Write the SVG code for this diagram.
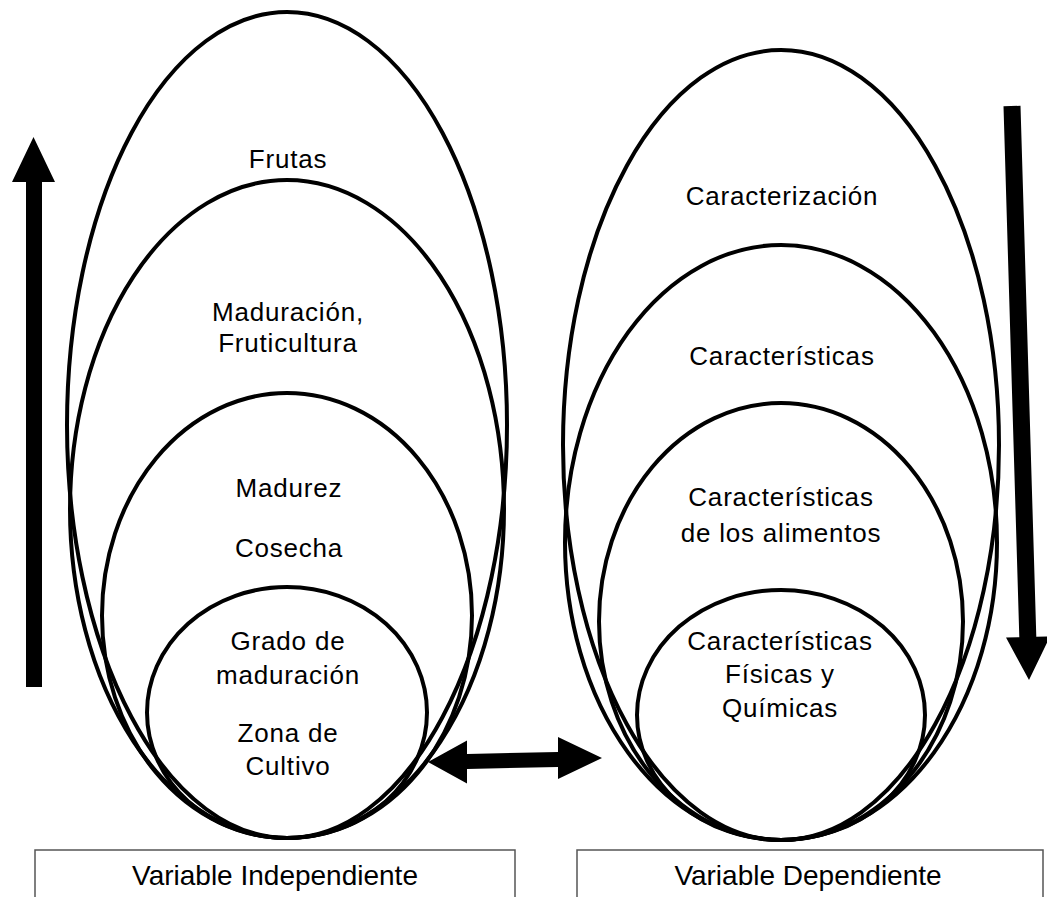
<svg xmlns="http://www.w3.org/2000/svg" width="1047" height="897" viewBox="0 0 1047 897">
<style>
.e{fill:none;stroke:#000;stroke-width:4}
.t{font-family:"Liberation Sans",Arial,sans-serif;font-size:26px;letter-spacing:0.8px;fill:#000;text-anchor:middle}
.b{font-family:"Liberation Sans",Arial,sans-serif;font-size:28px;fill:#000;text-anchor:middle}
.box{fill:#fff;stroke:#555;stroke-width:1.5}
.a{fill:#000}
</style>
<rect width="1047" height="897" fill="#fff"/>
<g id="left-group">
<g id="frutas"><ellipse class="e" cx="287" cy="425" rx="220" ry="413"/><text class="t" x="288" y="168">Frutas</text></g>
<g id="maduracion"><ellipse class="e" cx="287" cy="509" rx="217" ry="329"/><text class="t" x="288" y="321">Maduración,</text><text class="t" x="288" y="352">Fruticultura</text></g>
<g id="madurez"><ellipse class="e" cx="287" cy="615.5" rx="185" ry="222.5"/><text class="t" x="289" y="497">Madurez</text><text class="t" x="289" y="557">Cosecha</text></g>
<g id="grado"><ellipse class="e" cx="287" cy="712.5" rx="140" ry="125.5"/><text class="t" x="288" y="650">Grado de</text><text class="t" x="288" y="684">maduración</text><text class="t" x="288" y="742">Zona de</text><text class="t" x="288" y="775">Cultivo</text></g>
</g>
<g id="right-group">
<g id="caracterizacion"><ellipse class="e" cx="781" cy="445" rx="218" ry="395"/><text class="t" x="782" y="205">Caracterización</text></g>
<g id="caracteristicas"><ellipse class="e" cx="781" cy="542.5" rx="216" ry="297.5"/><text class="t" x="782" y="365">Características</text></g>
<g id="alimentos"><ellipse class="e" cx="781" cy="621.5" rx="182" ry="218.5"/><text class="t" x="781" y="506">Características</text><text class="t" x="781" y="542">de los alimentos</text></g>
<g id="fisicas"><ellipse class="e" cx="781" cy="715" rx="144" ry="125"/><text class="t" x="780" y="650">Características</text><text class="t" x="780" y="683">Físicas y</text><text class="t" x="780" y="717">Químicas</text></g>
</g>
<g id="connectors">
<polygon class="a" points="26,687 42,687 42,182 55,182 33.5,137 12,182 26,182"/>
<polygon class="a" points="1003.5,106.2 1020.5,105.8 1036.3,636.8 1050,636.5 1029,680 1006,637.5 1019.3,637.2"/>
<polygon class="a" points="428,762 467,740.5 467,754 558,752 558,737 602,758 558,779 558,767 467,769 467,783.5"/>
</g>
<g id="label-independiente"><rect class="box" x="35" y="850" width="480" height="60"/><text class="b" x="275" y="885">Variable Independiente</text></g>
<g id="label-dependiente"><rect class="box" x="577" y="850" width="466" height="60"/><text class="b" x="808" y="885">Variable Dependiente</text></g>
</svg>
